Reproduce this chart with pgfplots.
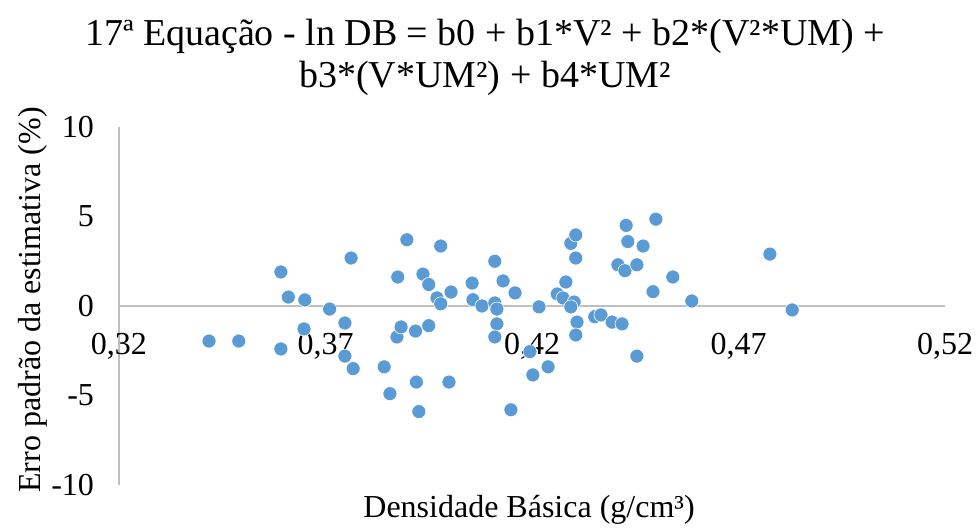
\documentclass[border=0pt]{standalone}
\usepackage{fontspec}
\setmainfont{Liberation Serif}
\usepackage{pgfplots}
\pgfplotsset{compat=1.18}
\definecolor{ptblue}{RGB}{91,155,213}
\definecolor{axgrey}{RGB}{191,191,191}
\begin{document}
\begin{tikzpicture}
\begin{axis}[
  at={(59.5pt,21.5pt)}, anchor=south west,
  scale only axis, width=413pt, height=179pt,
  xmin=0.32, xmax=0.52, ymin=-10, ymax=10,
  axis x line=middle, axis y line=left,
  axis line style={-, draw=axgrey, line width=0.9pt},
  hide obscured x ticks=false, hide obscured y ticks=false,
  xtick={0.32,0.37,0.42,0.47,0.52},
  ytick={-10,-5,0,5,10},
  major tick length=0pt,
  tick label style={font=\fontsize{16}{19}\selectfont},
  /pgf/number format/assume math mode=true,
  /pgf/number format/use comma,
  xticklabel style={/pgf/number format/fixed, /pgf/number format/precision=2, /pgf/number format/fixed zerofill, yshift=-10pt},
  yticklabel style={xshift=-9pt},
  xlabel={Densidade Básica (g/cm³)},
  ylabel={Erro padrão da estimativa (\%)},
  label style={font=\fontsize{16}{19}\selectfont},
  xlabel style={at={(axis description cs:0.4964,0)}, anchor=center, yshift=-12.5pt},
  ylabel style={at={(axis description cs:-0.104,0.517)}, anchor=center},
  clip=false,
]
\addplot[only marks, mark=*, mark size=3.5pt,
  mark options={fill=ptblue, draw=white, line width=0.3pt}]
  table {
x y
0.3418 -1.96
0.3490 -1.96
0.3592 1.90
0.3592 -2.40
0.3610 0.50
0.3650 0.34
0.3648 -1.28
0.3710 -0.17
0.3747 -0.95
0.3747 -2.80
0.3767 -3.50
0.3762 2.68
0.3842 -3.40
0.3856 -4.90
0.3875 1.62
0.3873 -1.73
0.3883 -1.17
0.3897 3.70
0.3918 -1.40
0.3950 -1.10
0.3920 -4.25
0.3926 -5.90
0.3999 -4.25
0.3936 1.78
0.3950 1.20
0.3970 0.45
0.3979 0.12
0.3979 3.35
0.4004 0.78
0.4055 1.28
0.4057 0.35
0.4079 0.00
0.4110 2.50
0.4110 0.17
0.4115 -0.17
0.4115 -1.00
0.4110 -1.73
0.4130 1.40
0.4159 0.73
0.4149 -5.80
0.4195 -2.55
0.4202 -3.85
0.4239 -3.40
0.4217 -0.05
0.4261 0.67
0.4275 0.45
0.4282 1.34
0.4294 3.50
0.4306 3.97
0.4306 2.68
0.4302 0.22
0.4294 -0.05
0.4309 -0.90
0.4306 -1.62
0.4352 -0.60
0.4367 -0.50
0.4394 -0.90
0.4418 -1.00
0.4454 -2.80
0.4493 0.80
0.4408 2.30
0.4425 1.97
0.4428 4.50
0.4432 3.60
0.4454 2.30
0.4469 3.35
0.4500 4.85
0.4541 1.62
0.4587 0.28
0.4776 2.90
0.4830 -0.22
};
\end{axis}
\node[align=center, font=\fontsize{19}{21}\selectfont] at (242.5pt,235.5pt)
  {17ª Equação - ln DB = b0 + b1*V² + b2*(V²*UM) +\\ b3*(V*UM²) + b4*UM²};
\pgfresetboundingbox
\useasboundingbox (0,0) rectangle (490pt,264pt);
\end{tikzpicture}
\end{document}
